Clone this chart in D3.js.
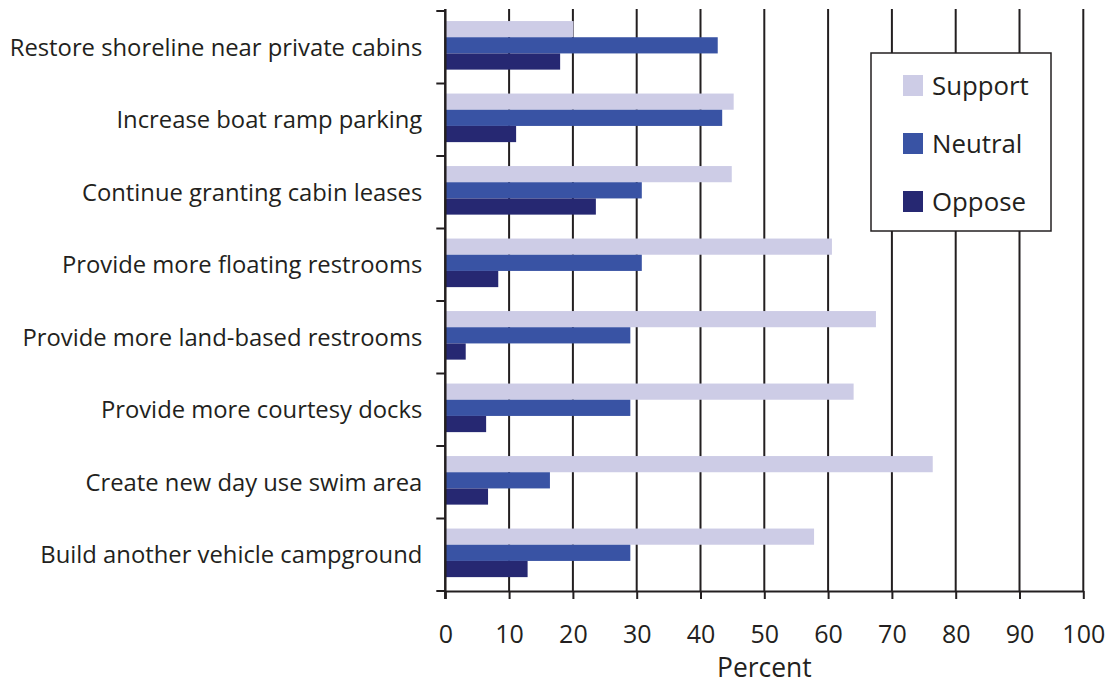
<!DOCTYPE html>
<html>
<head>
<meta charset="utf-8">
<script src="https://cdn.jsdelivr.net/npm/d3@7"></script>
<style>
  html, body { margin: 0; padding: 0; background: #fff; }
  svg { display: block; font-family: "Open Sans", sans-serif; }
</style>
</head>
<body>
<svg id="chart" width="1110" height="685"></svg>
<script>
const categories = [
  "Restore shoreline near private cabins",
  "Increase boat ramp parking",
  "Continue granting cabin leases",
  "Provide more floating restrooms",
  "Provide more land-based restrooms",
  "Provide more courtesy docks",
  "Create new day use swim area",
  "Build another vehicle campground"
];
const seriesNames = ["Support", "Neutral", "Oppose"];
const support = [20.1, 45.2, 44.9, 60.6, 67.5, 64.0, 76.4, 57.8];
const neutral = [42.7, 43.4, 30.8, 30.8, 29.0, 29.0, 16.4, 29.0];
const oppose  = [18.0, 11.1, 23.6, 8.3, 3.2, 6.4, 6.7, 12.9];
const xTicks = [0, 10, 20, 30, 40, 50, 60, 70, 80, 90, 100];
const xTitle = "Percent";

const seriesValues = [support, neutral, oppose];
const colors = ["#CDCCE6", "#3953A4", "#262872"];
const ink = "#231F20";

const svg = d3.select("#chart");
const mLeft = 445.3, mRight = 1083.3, mTop = 11, mBottom = 591;

const x = d3.scaleLinear().domain([0, 100]).range([mLeft, mRight]);
const y = d3.scaleBand().domain(categories).range([mTop, mBottom])
  .paddingInner(0.33).paddingOuter(0.165).align(0.42);
const ySub = d3.scaleBand().domain(seriesNames).range([0, y.bandwidth()]);
const boundary = d3.scaleLinear().domain([0, categories.length]).range([mTop, mBottom]);

// gridlines
svg.append("g").selectAll("line")
  .data(xTicks.filter(d => d > 0))
  .join("line")
  .attr("x1", d => x(d)).attr("x2", d => x(d))
  .attr("y1", mTop - 2).attr("y2", mBottom)
  .attr("stroke", ink).attr("stroke-width", 2);

// bars
const rows = categories.map((c, i) => ({ c, vals: seriesNames.map((s, j) => ({ s, j, v: seriesValues[j][i] })) }));
const g = svg.append("g").selectAll("g").data(rows).join("g")
  .attr("transform", d => `translate(0,${y(d.c)})`);
g.selectAll("rect").data(d => d.vals).join("rect")
  .attr("x", x(0))
  .attr("y", d => ySub(d.s))
  .attr("width", d => x(d.v) - x(0))
  .attr("height", ySub.bandwidth())
  .attr("fill", d => colors[d.j]);

// x axis
const xAxis = svg.append("g")
  .attr("transform", `translate(0,${mBottom})`)
  .call(d3.axisBottom(x).tickValues(xTicks).tickSize(8).tickPadding(26).tickSizeOuter(0));
xAxis.select(".domain").attr("stroke", ink).attr("stroke-width", 2);
xAxis.selectAll(".tick line").attr("stroke", ink).attr("stroke-width", 2);
xAxis.selectAll(".tick text").attr("fill", ink).attr("font-size", 25)
  .attr("font-family", "'Open Sans', sans-serif");

// y axis
const yAxis = svg.append("g");
yAxis.append("line").attr("x1", x(0)).attr("x2", x(0)).attr("y1", mTop - 2).attr("y2", mBottom + 8)
  .attr("stroke", ink).attr("stroke-width", 2.5);
yAxis.selectAll("line.tk").data(d3.range(categories.length + 1)).join("line")
  .attr("class", "tk")
  .attr("x1", x(0) - 9).attr("x2", x(0))
  .attr("y1", d => boundary(d)).attr("y2", d => boundary(d))
  .attr("stroke", ink).attr("stroke-width", 2);
yAxis.selectAll("text").data(categories).join("text")
  .attr("x", x(0) - 23)
  .attr("y", (d, i) => (boundary(i) + boundary(i + 1)) / 2)
  .attr("dy", "0.35em")
  .attr("text-anchor", "end")
  .attr("fill", ink)
  .attr("font-size", 23.8)
  .text(d => d);

// x title
svg.append("text")
  .attr("x", (mLeft + mRight) / 2).attr("y", 677)
  .attr("text-anchor", "middle").attr("fill", ink).attr("font-size", 26.4)
  .text(xTitle);

// legend
const lg = svg.append("g");
lg.append("rect").attr("x", 871).attr("y", 53).attr("width", 180).attr("height", 178)
  .attr("fill", "#fff").attr("stroke", ink).attr("stroke-width", 1.5);
const items = lg.selectAll("g.item").data(seriesNames).join("g").attr("class", "item")
  .attr("transform", (d, i) => `translate(903,${75 + i * 58})`);
items.append("rect").attr("width", 20).attr("height", 21).attr("fill", (d, i) => colors[i]);
items.append("text").attr("x", 29).attr("y", 10.5).attr("dy", "0.35em")
  .attr("fill", ink).attr("font-size", 25.8).text(d => d);
</script>
</body>
</html>
